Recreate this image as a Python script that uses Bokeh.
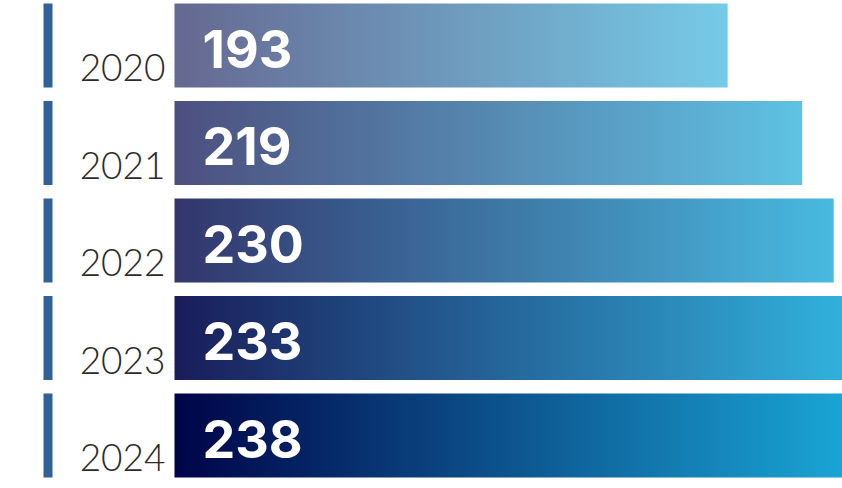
import numpy as np
from bokeh.plotting import figure
from bokeh.models import Range1d
from bokeh.core.properties import value
from bokeh.embed import file_html
from bokeh.resources import INLINE

# ---- data ----
years = ["2020", "2021", "2022", "2023", "2024"]
counts = [193, 219, 230, 233, 238]
value_labels = [str(c) for c in counts]

# ---- style ----
bar_alpha = [0.6, 0.7, 0.8, 0.9, 1.0]
left_rgb = np.array([0, 4, 72], dtype=float)
right_rgb = np.array([26, 168, 216], dtype=float)
marker_color = "#306198"
year_color = "#2b2b2b"

W, H = 842, 488
PX_PER_UNIT = 2.866     # pixels per count
ZERO_PX = 174           # frame x of zero
ROW_PX = 97.5           # row pitch
TOP_CENTER_PX = 45      # frame y of first row center
BAR_H = 84 / ROW_PX     # bar height in row units

n = len(years)
rows = [n - 1 - i for i in range(n)]

x_start = -ZERO_PX / PX_PER_UNIT
x_end = x_start + W / PX_PER_UNIT
y_end = (n - 1) + TOP_CENTER_PX / ROW_PX
y_start = y_end - H / ROW_PX

p = figure(width=W, height=H,
           x_range=Range1d(x_start, x_end), y_range=Range1d(y_start, y_end),
           output_backend="svg", toolbar_location=None, min_border=0,
           x_axis_location=None, y_axis_location=None)
p.grid.visible = False
p.outline_line_color = None
p.background_fill_color = "white"
p.border_fill_color = "white"

# gradient bars
N = 512
t = np.linspace(0, 1, N)[:, None]
for i, (c, a) in enumerate(zip(counts, bar_alpha)):
    base = left_rgb + (right_rgb - left_rgb) * t          # N x 3
    col = 255 * (1 - a) + base * a
    img = np.zeros((1, N), dtype=np.uint32)
    view = img.view(dtype=np.uint8).reshape((1, N, 4))
    view[0, :, 0:3] = np.clip(np.round(col), 0, 255).astype(np.uint8)
    view[0, :, 3] = 255
    p.image_rgba(image=[img], x=0, y=rows[i] - BAR_H / 2, dw=c, dh=BAR_H)

# left marker stripes
m_left = (43 - ZERO_PX) / PX_PER_UNIT
m_right = (52 - ZERO_PX) / PX_PER_UNIT
p.quad(left=[m_left] * n, right=[m_right] * n,
       bottom=[r - BAR_H / 2 for r in rows], top=[r + BAR_H / 2 for r in rows],
       fill_color=marker_color, line_color=None)

# year labels
p.text(x=[0] * n, y=rows, text=years, x_offset=-9, y_offset=22,
       text_align="right", text_baseline="alphabetic",
       text_font=value("Lato Light"), text_font_size="37px", text_color=year_color)

# value labels
p.text(x=[0] * n, y=rows, text=value_labels, x_offset=28, y_offset=3,
       text_align="left", text_baseline="alphabetic",
       text_font=value("Inter"), text_font_style="bold",
       text_font_size="52px", text_color="white")

open("out.html", "w").write(file_html(p, INLINE))
